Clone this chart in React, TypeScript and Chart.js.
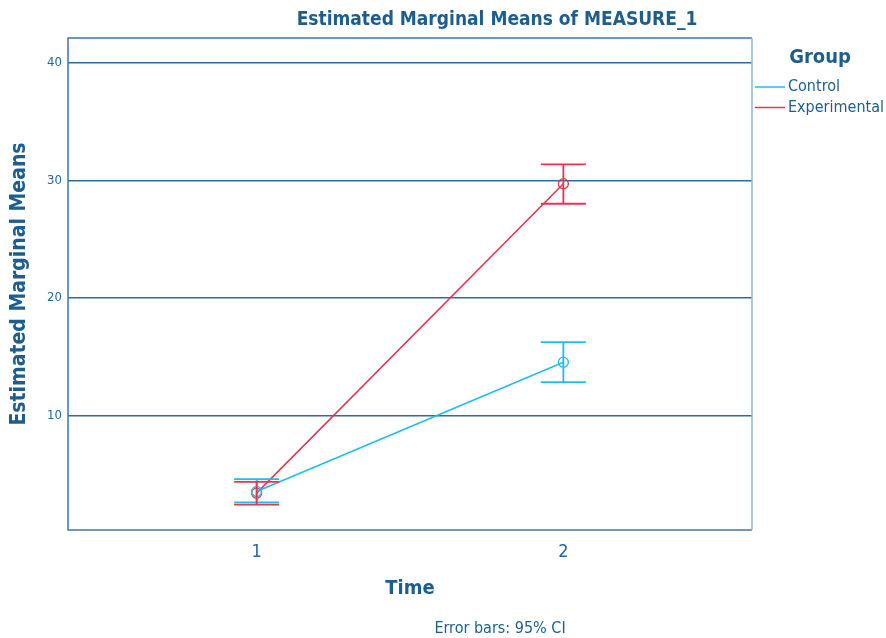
import React, { useEffect, useRef } from "react";
import { Chart, registerables } from "chart.js";

Chart.register(...registerables);

const chartTitle = "Estimated Marginal Means of MEASURE_1";
const xAxisTitle = "Time";
const yAxisTitle = "Estimated Marginal Means";
const legendTitle = "Group";
const footnote = "Error bars: 95% CI";

const timePoints = [1, 2];
const xTickValues = [1, 2];
const yTickValues = [10, 20, 30, 40];

const seriesNames = ["Control", "Experimental"];
const controlMeans = [3.57, 14.56];
const controlLower = [2.65, 12.86];
const controlUpper = [4.62, 16.26];
const experimentalMeans = [3.43, 29.72];
const experimentalLower = [2.45, 28.02];
const experimentalUpper = [4.39, 31.36];

const CONTROL_COLOR = "#1fbdf0";
const EXP_COLOR = "#e2374f";
const TEXT_COLOR = "#1d5e8e";
const TICK_COLOR = "#27679b";
const GRID_COLOR = "#2f6d9c";
const FONT = "'Liberation Sans Narrow', 'DejaVu Sans Condensed', sans-serif";

const errorData = [
  { lower: controlLower, upper: controlUpper, color: CONTROL_COLOR },
  { lower: experimentalLower, upper: experimentalUpper, color: EXP_COLOR },
];

const extrasPlugin = {
  id: "extras",
  afterDatasetsDraw(chart: any) {
    const { ctx, chartArea, scales } = chart;
    const xs = scales.x;
    const ys = scales.y;
    ctx.save();
    errorData.forEach((e) => {
      ctx.strokeStyle = e.color;
      ctx.lineWidth = 1.8;
      timePoints.forEach((t, i) => {
        const x = xs.getPixelForValue(t);
        const yl = ys.getPixelForValue(e.lower[i]);
        const yu = ys.getPixelForValue(e.upper[i]);
        const cap = 22.5;
        ctx.beginPath();
        ctx.moveTo(x, yl);
        ctx.lineTo(x, yu);
        ctx.moveTo(x - cap, yl);
        ctx.lineTo(x + cap, yl);
        ctx.moveTo(x - cap, yu);
        ctx.lineTo(x + cap, yu);
        ctx.stroke();
      });
    });
    ctx.lineWidth = 1.5;
    ctx.strokeStyle = "#3a7bab";
    ctx.beginPath();
    ctx.moveTo(chartArea.right, chartArea.top);
    ctx.lineTo(chartArea.left, chartArea.top);
    ctx.lineTo(chartArea.left, chartArea.bottom);
    ctx.lineTo(chartArea.right, chartArea.bottom);
    ctx.stroke();
    ctx.strokeStyle = "#8fb6d3";
    ctx.beginPath();
    ctx.moveTo(chartArea.right, chartArea.top);
    ctx.lineTo(chartArea.right, chartArea.bottom);
    ctx.stroke();
    ctx.restore();
  },
  afterDraw(chart: any) {
    const { ctx } = chart;
    ctx.save();
    ctx.fillStyle = TEXT_COLOR;
    ctx.textAlign = "center";
    ctx.textBaseline = "middle";
    ctx.font = `bold 19px ${FONT}`;
    ctx.fillText(chartTitle, 497, 20);
    ctx.font = `bold 20px ${FONT}`;
    ctx.fillText(legendTitle, 820, 58);
    ctx.font = `16px ${FONT}`;
    ctx.fillText(footnote, 500, 629);
    const colors = [CONTROL_COLOR, EXP_COLOR];
    seriesNames.forEach((name, i) => {
      const y = 87 + i * 20.5;
      ctx.strokeStyle = colors[i];
      ctx.lineWidth = 1.5;
      ctx.beginPath();
      ctx.moveTo(755, y);
      ctx.lineTo(785, y);
      ctx.stroke();
      ctx.fillStyle = TEXT_COLOR;
      ctx.textAlign = "left";
      ctx.font = `16px ${FONT}`;
      ctx.fillText(name, 788, y);
    });
    ctx.restore();
  },
};

export default function App() {
  const ref = useRef<HTMLCanvasElement>(null);
  useEffect(() => {
    if (!ref.current) return;
    const toPts = (vals: number[]) => timePoints.map((t, i) => ({ x: t, y: vals[i] }));
    const chart = new Chart(ref.current, {
      type: "line",
      data: {
        datasets: [
          {
            label: seriesNames[0],
            data: toPts(controlMeans),
            borderColor: CONTROL_COLOR,
            borderWidth: 1.6,
            pointRadius: 5,
            pointBorderWidth: 1.3,
            pointBackgroundColor: "rgba(0,0,0,0)",
            pointBorderColor: CONTROL_COLOR,
          },
          {
            label: seriesNames[1],
            data: toPts(experimentalMeans),
            borderColor: EXP_COLOR,
            borderWidth: 1.6,
            pointRadius: 5,
            pointBorderWidth: 1.3,
            pointBackgroundColor: "rgba(0,0,0,0)",
            pointBorderColor: EXP_COLOR,
          },
        ],
      },
      options: {
        responsive: false,
        animation: false,
        layout: { padding: { top: 38, right: 134, left: 0, bottom: 0 } },
        plugins: { legend: { display: false }, title: { display: false }, tooltip: { enabled: false } },
        scales: {
          x: {
            type: "linear",
            min: 0.385,
            max: 2.615,
            afterBuildTicks: (s: any) => {
              s.ticks = xTickValues.map((v) => ({ value: v }));
            },
            afterFit: (s: any) => {
              s.height = 108;
            },
            grid: { display: false, drawTicks: false },
            border: { display: false },
            ticks: {
              padding: 12,
              color: TICK_COLOR,
              font: { family: FONT, size: 18 },
              callback: (v: any) => String(v),
            },
            title: {
              display: true,
              text: xAxisTitle,
              color: TEXT_COLOR,
              font: { family: FONT, size: 20, weight: "bold" },
              padding: { top: 0, bottom: 37 },
            },
          },
          y: {
            type: "linear",
            min: 0.3,
            max: 42.1,
            afterBuildTicks: (s: any) => {
              s.ticks = yTickValues.map((v) => ({ value: v }));
            },
            afterFit: (s: any) => {
              s.width = 68;
            },
            grid: { color: GRID_COLOR, lineWidth: 1.5, drawTicks: false },
            border: { display: false },
            ticks: {
              padding: 6,
              color: TICK_COLOR,
              font: { family: FONT, size: 13 },
            },
            title: {
              display: true,
              text: yAxisTitle,
              color: TEXT_COLOR,
              font: { family: FONT, size: 21, weight: "bold" },
              padding: { top: 7, bottom: 0 },
            },
          },
        },
      },
      plugins: [extrasPlugin],
    });
    return () => chart.destroy();
  }, []);
  return (
    <div style={{ position: "fixed", left: 0, top: 0, width: 886, height: 638, background: "#fff" }}>
      <canvas ref={ref} width={886} height={638} />
    </div>
  );
}
